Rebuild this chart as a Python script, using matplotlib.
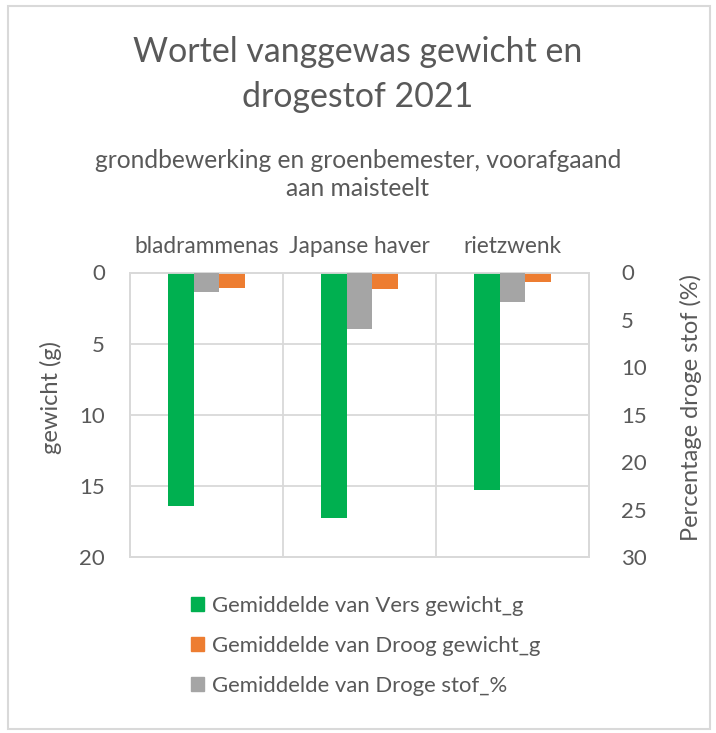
import numpy as np
import matplotlib
matplotlib.use("Agg")
import matplotlib.pyplot as plt
from matplotlib.patches import Rectangle, Patch

plt.rcParams['font.family'] = ['Lato', 'DejaVu Sans']

# data
categories = ["bladrammenas", "Japanse haver", "rietzwenk"]
vers_gewicht = [16.4, 17.25, 15.3]      # g, left axis
droog_gewicht = [1.07, 1.15, 0.68]      # g, left axis
droge_stof = [2.1, 5.95, 3.15]          # %, right axis
series_names = ["Gemiddelde van Vers gewicht_g",
                "Gemiddelde van Droog gewicht_g",
                "Gemiddelde van Droge stof_%"]
left_ticks = [0, 5, 10, 15, 20]
right_ticks = [0, 5, 10, 15, 20, 25, 30]

green = "#00b050"
orange = "#ed7d31"
grey = "#a5a5a5"
txt = "#595959"
gridc = "#d9d9d9"

fig = plt.figure(figsize=(7.16, 7.33), dpi=100)
fig.patches.append(Rectangle((8 / 716, 1 - 729 / 733), 702 / 716, 723 / 733,
                             transform=fig.transFigure, fill=False,
                             edgecolor=gridc, linewidth=1.5))

ax = fig.add_axes([130 / 716, 1 - 557 / 733, 459 / 716, 284.5 / 733])
ax2 = ax.twinx()

x = np.arange(len(categories))
w = 0.168
ax.bar(x - w, vers_gewicht, w, color=green, zorder=3)
ax.bar(x + w, droog_gewicht, w, color=orange, zorder=3)
ax2.bar(x, droge_stof, w, color=grey, zorder=3)

ax.set_xlim(-0.5, 2.5)
ax.set_ylim(20, 0)
ax2.set_ylim(30, 0)
ax.set_yticks(left_ticks)
ax2.set_yticks(right_ticks)

ax.xaxis.tick_top()
ax.set_xticks(x)
ax.set_xticklabels(categories)
ax.set_xticks([0.5, 1.5], minor=True)
ax.grid(axis='y', color=gridc, linewidth=1.3, zorder=0)
ax.grid(axis='x', which='minor', color=gridc, linewidth=1.3, zorder=0)
ax.tick_params(axis='x', which='both', length=0, pad=11, labelsize=16.3, colors=txt)
ax.tick_params(axis='y', length=0, pad=18, labelsize=16, colors=txt)
ax2.tick_params(axis='y', length=0, pad=23, labelsize=16, colors=txt)
for a in (ax, ax2):
    for s in a.spines.values():
        s.set_color(gridc)
        s.set_linewidth(1.3)

ax.set_ylabel("gewicht (g)", fontsize=17, color=txt)
ax.yaxis.set_label_coords(-0.148, 0.559)
ax2.set_ylabel("Percentage droge stof (%)", fontsize=17, color=txt)
ax2.yaxis.set_label_coords(1.198, 0.524)

fig.text(0.5, 1 - 52 / 733, "Wortel vanggewas gewicht en", ha='center', va='center',
         fontsize=24.4, color=txt)
fig.text(0.5, 1 - 97 / 733, "drogestof 2021", ha='center', va='center',
         fontsize=24.4, color=txt)
fig.text(0.5, 1 - 160 / 733, "grondbewerking en groenbemester, voorafgaand",
         ha='center', va='center', fontsize=17.7, color=txt)
fig.text(0.5, 1 - 188 / 733, "aan maisteelt", ha='center', va='center',
         fontsize=17.7, color=txt)

handles = [Patch(color=c) for c in (green, orange, grey)]
fig.legend(handles, series_names, loc='upper left',
           bbox_to_anchor=(171 / 716, 1 - 576 / 733), frameon=False,
           fontsize=15.9, labelcolor=txt, handlelength=0.6, handleheight=0.6,
           handletextpad=0.35, labelspacing=0.9)

fig.savefig("out.png", dpi=100)
